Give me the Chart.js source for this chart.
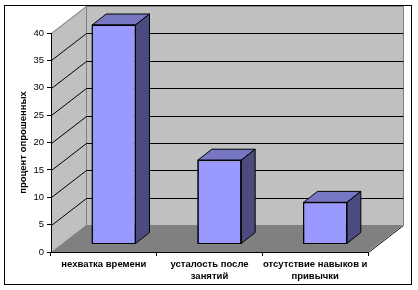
<!DOCTYPE html>
<html><head><meta charset="utf-8">
<script src="https://cdn.jsdelivr.net/npm/chart.js@4/dist/chart.umd.min.js"></script>
<style>html,body{margin:0;padding:0;background:#fff;}canvas{display:block;}</style>
</head><body>
<canvas id="c" width="418" height="290"></canvas>
<script>
// ---- data ----
const categories = [["нехватка времени"], ["усталость после", "занятий"], ["отсутствие навыков и", "привычки"]];
const values = [40, 15.3, 7.6];
const yMin = 0, yMax = 40, yStep = 5;
const yTitle = "процент опрошенных";

// ---- 3D look ----
const DX = 35, DY = 27;          // wall depth
const FDX = 10, FDY = 8;         // bar front offset from front plane
const BDX = 14, BDY = 11;        // bar depth
const WALL = '#C0C0C0', FLOOR = '#808080', EDGE = '#808080';
const FRONT = '#9999FF', TOP = '#7777C4', SIDE = '#4B4B80';

Chart.defaults.font.family = "'Liberation Sans', Arial, sans-serif";
Chart.defaults.color = '#000';

const walls = {
  id: 'walls',
  beforeDraw(chart) {
    const ctx = chart.ctx;
    const a = chart.chartArea;
    const ys = chart.scales.y;
    const L = Math.round(a.left), R = Math.round(a.right), B = Math.round(a.bottom), T = Math.round(ys.getPixelForValue(yMax));
    ctx.save();
    ctx.fillStyle = '#fff'; ctx.fillRect(0, 0, chart.width, chart.height);
    ctx.strokeStyle = '#000'; ctx.lineWidth = 1;
    ctx.strokeRect(4.5, 5.5, 407, 279);
    // side wall
    ctx.fillStyle = WALL;
    ctx.beginPath(); ctx.moveTo(L, B); ctx.lineTo(L, T); ctx.lineTo(L + DX, T - DY); ctx.lineTo(L + DX, B - DY); ctx.closePath(); ctx.fill();
    // back wall
    ctx.fillRect(L + DX, T - DY, R - L, B - T);
    // floor
    ctx.fillStyle = FLOOR;
    ctx.beginPath(); ctx.moveTo(L, B); ctx.lineTo(L + DX, B - DY); ctx.lineTo(R + DX, B - DY); ctx.lineTo(R, B); ctx.closePath(); ctx.fill();
    // wall edges
    ctx.strokeStyle = EDGE;
    ctx.beginPath();
    ctx.moveTo(L + DX + 0.5, B - DY); ctx.lineTo(L + DX + 0.5, T - DY + 0.5);
    ctx.lineTo(R + DX + 0.5, T - DY + 0.5); ctx.lineTo(R + DX + 0.5, B - DY);
    ctx.moveTo(L + 0.5, T + 0.5); ctx.lineTo(L + DX + 0.5, T - DY + 0.5);
    ctx.stroke();
    // floor right edge
    ctx.strokeStyle = '#000';
    ctx.beginPath(); ctx.moveTo(R + 0.5, B + 0.5); ctx.lineTo(R + DX + 0.5, B - DY + 0.5); ctx.stroke();
    // gridlines
    ctx.beginPath();
    for (let v = yMin + yStep; v < yMax; v += yStep) {
      const yp = Math.round(ys.getPixelForValue(v)) + 0.5;
      ctx.moveTo(L + 0.5, yp); ctx.lineTo(L + DX + 0.5, yp - DY); ctx.lineTo(R + DX + 0.5, yp - DY);
    }
    ctx.stroke();
    ctx.restore();
  },
  beforeDatasetsDraw(chart) {
    chart.ctx.save();
    chart.ctx.translate(FDX, -FDY);
  },
  afterDatasetsDraw(chart) {
    const ctx = chart.ctx;
    ctx.restore();
    const meta = chart.getDatasetMeta(0);
    ctx.save();
    ctx.strokeStyle = '#000'; ctx.lineWidth = 1; ctx.lineJoin = 'miter';
    meta.data.forEach(bar => {
      const p = bar.getProps(['x', 'y', 'width', 'base'], true);
      const fl = p.x - p.width / 2 + FDX, fr = p.x + p.width / 2 + FDX;
      const ft = p.y - FDY, fb = p.base - FDY;
      // top face
      ctx.fillStyle = TOP;
      ctx.beginPath(); ctx.moveTo(fl, ft); ctx.lineTo(fl + BDX, ft - BDY); ctx.lineTo(fr + BDX, ft - BDY); ctx.lineTo(fr, ft); ctx.closePath(); ctx.fill(); ctx.stroke();
      // side face
      ctx.fillStyle = SIDE;
      ctx.beginPath(); ctx.moveTo(fr, ft); ctx.lineTo(fr + BDX, ft - BDY); ctx.lineTo(fr + BDX, fb - BDY); ctx.lineTo(fr, fb); ctx.closePath(); ctx.fill(); ctx.stroke();
      // front outline
      ctx.strokeRect(fl, ft, fr - fl, fb - ft);
    });
    ctx.restore();
  }
};

new Chart(document.getElementById('c'), {
  type: 'bar',
  data: {
    labels: categories,
    datasets: [{
      data: values,
      backgroundColor: FRONT,
      borderColor: '#000',
      borderWidth: 1,
      categoryPercentage: 1,
      barPercentage: 0.41,
      clip: false
    }]
  },
  options: {
    responsive: false,
    devicePixelRatio: 1,
    animation: false,
    events: [],
    layout: { padding: { left: 0, top: 33, right: 50, bottom: 0 } },
    plugins: { legend: { display: false }, tooltip: { enabled: false } },
    scales: {
      x: {
        offset: true,
        grid: { display: true, drawOnChartArea: false, drawTicks: true, tickLength: 4, color: '#000', offset: true },
        border: { display: true, color: '#000' },
        ticks: { font: { size: 9.5, weight: 'bold' }, padding: 3, maxRotation: 0, autoSkip: false },
        afterFit(s) { s.height = 38; }
      },
      y: {
        min: yMin, max: yMax,
        grid: { display: true, drawOnChartArea: false, drawTicks: true, tickLength: 4, color: '#000' },
        border: { display: true, color: '#000' },
        ticks: { stepSize: yStep, font: { size: 9.5 }, padding: 3 },
        title: { display: true, text: yTitle, font: { size: 9.5, weight: 'bold' }, padding: { top: 18, bottom: 0 } },
        afterFit(s) { s.width = 51; }
      }
    }
  },
  plugins: [walls]
});
</script>
</body></html>
